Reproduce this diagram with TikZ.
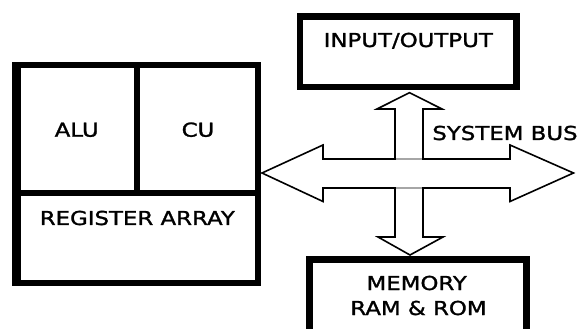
\documentclass[tikz,border=0pt]{standalone}
\usepackage{fontspec}
\setmainfont{DejaVu Sans}
\newfontfamily\lblfont{DejaVu Sans}[FakeBold=1.3]
\usepackage{graphicx}
\newcommand{\stx}[1]{\scalebox{1.19}[1]{#1}}
\begin{document}
\begin{tikzpicture}[x=1pt,y=-1pt,
  lbl/.style={inner sep=0pt, anchor=base, font=\lblfont\fontsize{19.2}{23}\selectfont, text=black},
  heavybox/.style={line width=6pt, draw=black, inner sep=0pt, outer sep=0pt, anchor=north west},
  divider/.style={line width=6pt, draw=black},
  busline/.style={line width=1.6pt, draw=black, line join=miter, fill=white}]
\useasboundingbox (0,0) rectangle (582,329);
\clip (0,0) rectangle (582,329);
% CPU block
\node[heavybox, minimum width=243pt, minimum height=218pt] (cpu) at (15,65) {};
\fill[black] (12,62) rectangle (20.7,286);
\draw[divider] (137,65) -- (137,193);
\draw[divider] (15,193) -- (258,193);
\node[lbl] (alu) at (76.7,136.7) {\stx{ALU}};
\node[lbl] (cu) at (198,136.7) {\stx{CU}};
\node[lbl] (reg) at (137.3,225) {\stx{REGISTER ARRAY}};
% I/O block
\node[heavybox, line width=6.5pt, minimum width=216.7pt, minimum height=70.7pt] (io) at (300,16.3) {};
\node[lbl] (iotext) at (408.3,47) {\stx{INPUT/OUTPUT}};
% Memory block
\node[heavybox, line width=6.5pt, minimum width=217pt, minimum height=100pt] (mem) at (309.3,259.5) {};
\node[lbl] (memtext) at (416.7,290) {\stx{MEMORY}};
\node[lbl] (ramtext) at (418.5,315) {\stx{RAM \& ROM}};
% System bus
\draw[busline] (262,173) -- (323,145) -- (323,159) -- (395,159) -- (395,109)
  -- (377,109) -- (409.5,92.7) -- (442,109) -- (423,109) -- (423,159)
  -- (510,159) -- (510,145) -- (573.5,173) -- (510,201.5) -- (510,188)
  -- (423,188) -- (423,237) -- (443,237) -- (410,255) -- (378,237)
  -- (395,237) -- (395,188) -- (323,188) -- (323,201.5) -- cycle;
\draw[line width=1.6pt, black!35] (396,159) -- (422,159);
\draw[line width=1.6pt, black!35] (396,188) -- (422,188);
\node[lbl] (bustext) at (505,140) {\stx{SYSTEM BUS}};
\end{tikzpicture}
\end{document}
